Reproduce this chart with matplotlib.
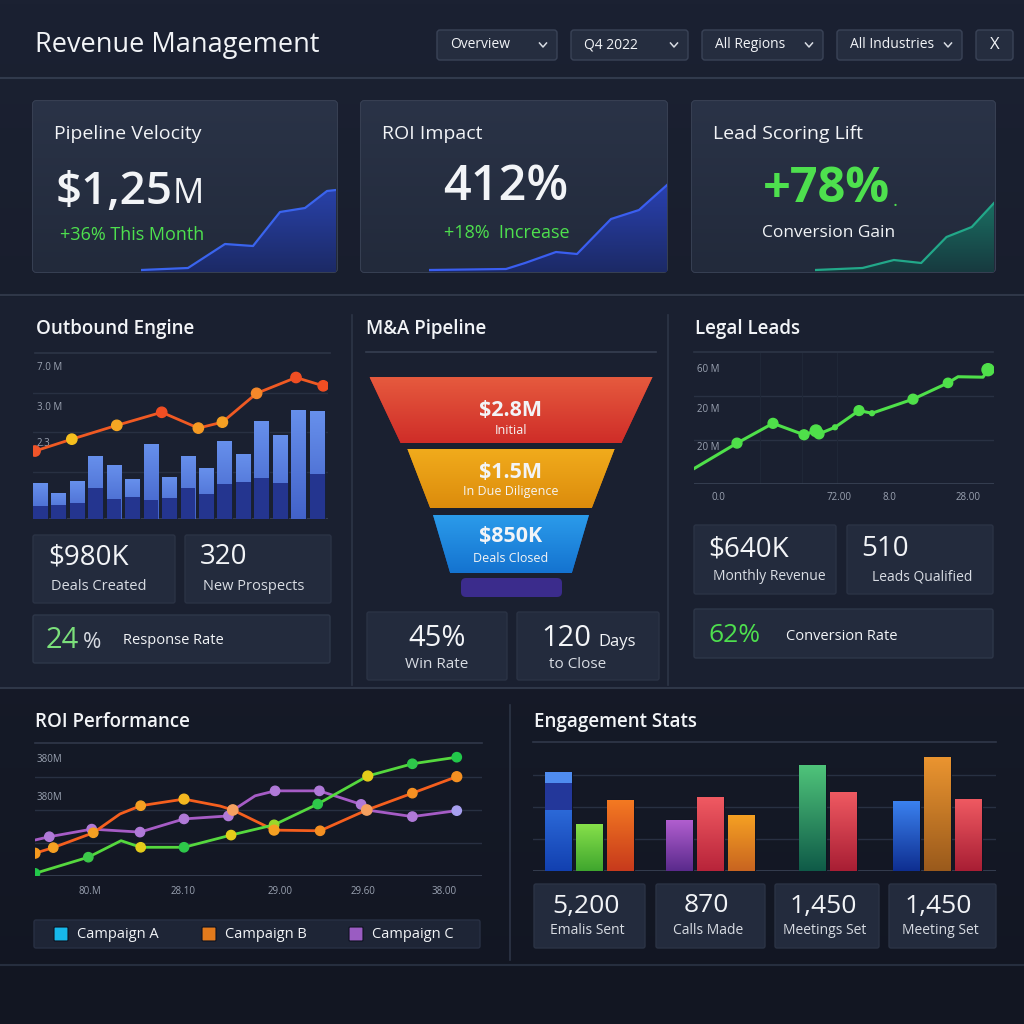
import numpy as np
import matplotlib
matplotlib.use('Agg')
import matplotlib.pyplot as plt
from matplotlib.patches import FancyBboxPatch, Polygon
from matplotlib.colors import LinearSegmentedColormap

plt.rcParams['font.family'] = ['Open Sans', 'DejaVu Sans']

# ---------------- data ----------------
filters = ['Overview', 'Q4 2022', 'All Regions', 'All Industries']

kpi_titles = ['Pipeline Velocity', 'ROI Impact', 'Lead Scoring Lift']
kpi_notes = ['+36% This Month', '+18%  Increase', 'Conversion Gain']

spark1_t = [0, 4.7, 8.4, 11.2, 13.9, 16.4, 18.6, 19.5]
spark1_v = [2, 4, 28, 26, 60, 64, 81, 82]
spark2_t = [0, 7.7, 9.6, 12.7, 14.8, 18.2, 21.0, 23.8]
spark2_v = [2, 3, 9, 20, 18, 53, 62, 87]
spark3_t = [0, 4.7, 7.8, 10.5, 13.0, 15.5, 17.7]
spark3_v = [2, 4, 12, 9, 35, 45, 69]

out_bar_total = [0.90, 0.67, 0.96, 1.60, 1.37, 1.00, 1.90, 1.07,
                 1.60, 1.29, 1.97, 1.64, 2.47, 2.12, 2.77, 2.73]
out_bar_base = [0.34, 0.35, 0.41, 0.78, 0.51, 0.55, 0.48, 0.52,
                0.78, 0.62, 0.88, 0.94, 1.05, 0.90, 0.00, 1.15]
out_line_x = [-0.27, 1.72, 4.15, 6.58, 8.56, 9.86, 11.71, 13.84, 15.31]
out_line_y = [1.72, 2.02, 2.37, 2.70, 2.30, 2.45, 3.18, 3.58, 3.37]
out_ylabels = ['7.0 M', '3.0 M', '2.3']

funnel_values = [2.8, 1.5, 0.85]
funnel_amounts = ['$2.8M', '$1.5M', '$850K']
funnel_stages = ['Initial', 'In Due Diligence', 'Deals Closed']

leads_x = [0, 4.3, 7.9, 11.0, 12.2, 12.5, 14.1, 16.5, 17.8, 21.9, 25.4, 26.4, 28.9, 29.4]
leads_y = [0.35, 0.93, 1.38, 1.12, 1.21, 1.14, 1.29, 1.67, 1.61, 1.93, 2.30, 2.44, 2.43, 2.60]
leads_xticks = [2.4, 14.5, 19.5, 27.4]
leads_xlabels = ['0.0', '72.00', '8.0', '28.00']
leads_ylabels = ['60 M', '20 M', '20 M']

roi_a_x = [0, 5.37, 8.66, 10.64, 15.0, 19.74, 24.07, 28.46, 33.5, 37.99, 42.46]
roi_a_y = [0.08, 0.57, 1.07, 0.87, 0.87, 1.24, 1.55, 2.18, 3.03, 3.40, 3.60]
roi_b_x = [0, 1.84, 5.87, 8.56, 10.64, 15.0, 18.63, 19.91, 24.07, 28.7, 33.4, 37.99, 42.46]
roi_b_y = [0.69, 0.86, 1.31, 1.88, 2.13, 2.33, 2.12, 2.00, 1.39, 1.37, 2.00, 2.51, 3.01]
roi_c_x = [0, 1.44, 5.71, 10.57, 15.0, 19.47, 19.97, 22.16, 24.17, 28.63, 32.83, 33.4, 37.99, 42.46]
roi_c_y = [1.09, 1.19, 1.42, 1.33, 1.73, 1.82, 2.00, 2.43, 2.58, 2.58, 2.17, 2.00, 1.80, 1.98]
roi_xticks = [5.5, 14.9, 24.7, 33.0, 41.2]
roi_xlabels = ['80.M', '28.10', '29.00', '29.60', '38.00']
roi_ylabels = ['380M', '380M']
campaigns = ['Campaign A', 'Campaign B', 'Campaign C']

eng_values = [[3.08, 1.46, 2.22], [1.60, 2.31, 1.74], [3.30, 2.47], [2.19, 3.57, 2.26]]
eng_first_stack = [1.90, 0.84, 0.34]

outbound_stats = [('$980K', 'Deals Created'), ('320', 'New Prospects')]
ma_stats = [('45%', 'Win Rate'), ('120', 'to Close')]
leads_stats = [('$640K', 'Monthly Revenue'), ('510', 'Leads Qualified')]
eng_stats = [('5,200', 'Emalis Sent'), ('870', 'Calls Made'),
             ('1,450', 'Meetings Set'), ('1,450', 'Meeting Set')]

# ---------------- figure ----------------
fig = plt.figure(figsize=(10.24, 10.24), dpi=100)
bg = fig.add_axes([0, 0, 1, 1])
bg.axis('off')

WHITE = '#f2f4f7'
LABEL = '#d8dce3'
GREEN = '#4ee04e'
TICK = '#9aa2b1'
LINE = '#2d3546'


def cmap2(c1, c2):
    return LinearSegmentedColormap.from_list('g', [c1, c2])


def vgrad(ax, clip, c_top, c_bot, extent, z=2, transform=None):
    im = ax.imshow(np.linspace(0, 1, 128).reshape(-1, 1), cmap=cmap2(c_top, c_bot),
                   extent=extent, aspect='auto', origin='upper', zorder=z)
    if transform is None:
        im.set_clip_path(clip)
    else:
        im.set_clip_path(clip, transform)
    return im


def box(x0, y0, x1, y1, fc, ec, r=3, lw=1.0, z=1):
    p = FancyBboxPatch((x0, y0), x1 - x0, y1 - y0, boxstyle=f'round,pad=0,rounding_size={r}',
                       fc=fc, ec=ec, lw=lw, zorder=z)
    bg.add_patch(p)
    return p


def txt(x, y, s, size, color=WHITE, ha='left', weight='normal', z=5, **kw):
    bg.text(x, y, s, fontsize=size, color=color, ha=ha, va='center', fontweight=weight,
            zorder=z, **kw)


def hline(y, x0, x1, color=LINE, lw=1.2):
    bg.plot([x0, x1], [y, y], color=color, lw=lw, zorder=1)


def vline(x, y0, y1, color=LINE, lw=1.2):
    bg.plot([x, x], [y0, y1], color=color, lw=lw, zorder=1)


def px_axes(x0, y0, x1, y1):
    ax = fig.add_axes([x0 / 1024, 1 - y1 / 1024, (x1 - x0) / 1024, (y1 - y0) / 1024])
    ax.patch.set_alpha(0)
    for s in ax.spines.values():
        s.set_visible(False)
    ax.set_xticks([])
    ax.set_yticks([])
    return ax


# background
bg.imshow(np.linspace(0, 1, 256).reshape(-1, 1),
          cmap=LinearSegmentedColormap.from_list('bg', ['#1b2132', '#171c2a', '#121622']),
          extent=(0, 1024, 1024, 0), aspect='auto', origin='upper', zorder=0)
box(0, 297, 1024, 687, '#1a2030', 'none', r=0, z=0.5)

# header
txt(35, 45, 'Revenue Management', 19.5, weight='medium')
drop_x = [(437, 557), (571, 688), (702, 823), (837, 962)]
for (x0, x1), name in zip(drop_x, filters):
    box(x0, 30, x1, 60, '#252d3f', '#3a4357', r=3)
    txt(x0 + 13, 45, name, 10, color=WHITE)
    cx = x1 - 14
    bg.plot([cx - 3.5, cx, cx + 3.5], [43, 47, 43], color=LABEL, lw=1.1, zorder=5)
box(976, 30, 1013, 60, '#252d3f', '#3a4357', r=3)
txt(994.5, 45, 'X', 12, ha='center', weight='medium')
hline(78, 0, 1024, color='#313a4c', lw=1.5)

# KPI cards
cards = [(33, 337), (361, 667), (692, 995)]
for (x0, x1), title in zip(cards, kpi_titles):
    p = box(x0, 101, x1, 272, '#273044', '#3d465a', r=3, lw=1.2)
    vgrad(bg, p, '#2a3347', '#222a3b', (x0, x1, 272, 101), z=1.2)
    txt(x0 + 21, 134, title, 14, weight='medium')

txt(56, 192, '$1,25', 33, weight='semibold')
txt(173, 194, 'M', 25, weight='medium')
txt(60, 235, kpi_notes[0], 13, color=GREEN)
txt(506, 187, '412%', 35, ha='center', weight='semibold')
txt(507, 233, kpi_notes[1], 13, color=GREEN, ha='center')
txt(826, 189, '+78%', 35, color=GREEN, ha='center', weight='bold')
txt(893, 201, '.', 14, color=GREEN)
hline(211, 765, 895, color='#4d5a5c', lw=1.5)
txt(829, 233, kpi_notes[2], 12.5, ha='center')

sparks = [((141, 336), spark1_t, spark1_v, '#3a64ee', '#2a44b0', '#1c2a66'),
          ((429, 667), spark2_t, spark2_v, '#3a5ef0', '#2a42b4', '#1c2a66'),
          ((815, 994), spark3_t, spark3_v, '#22a889', '#1b7f6d', '#173a3f')]
for (x0, x1), t, v, lc, c1, c2 in sparks:
    ax = px_axes(x0, 180, x1, 272)
    ax.set_xlim(min(t), max(t))
    ax.set_ylim(0, 92)
    poly = ax.fill_between(t, v, 0, color='none')
    vgrad(ax, poly.get_paths()[0], c1, c2, (min(t), max(t), 0, 92), transform=ax.transData)
    ax.plot(t, v, color=lc, lw=1.6)
    ax.set_xlim(min(t), max(t))
    ax.set_ylim(0, 92)

hline(295, 0, 1024, color='#2f3748', lw=1.5)

# ---------------- Outbound Engine ----------------
txt(36, 329, 'Outbound Engine', 13.5, weight='semibold')
hline(353, 35, 330)
ax = px_axes(33, 353, 328, 519)
ax.set_xlim(-0.38, 15.57)
ax.set_ylim(0, 4.2)
for g in [1.2, 2.2, 3.2]:
    ax.axhline(g, color='#283042', lw=1, zorder=0)
ax.axhline(0, color='#3a4356', lw=1.2, zorder=0)
idx = np.arange(len(out_bar_total))
tops = ax.bar(idx, out_bar_total, width=0.81, color='none', edgecolor='#16203a', lw=0.6, zorder=2)
for b in tops:
    vgrad(ax, b, '#6790ec', '#4262c8', (b.get_x(), b.get_x() + b.get_width(), 0, b.get_height()), z=2)
ax.bar(idx, out_bar_base, width=0.81, color='#24358f', zorder=3)
ax.plot(out_line_x, out_line_y, color='#f05a23', lw=2, zorder=4)
dot_cols = ['#f0552a', '#f5bf1e', '#f5a623', '#f04e23', '#f59a23', '#f5a023', '#f5882a', '#f04e23', '#f04e23']
ax.scatter(out_line_x, out_line_y, s=55, c=dot_cols, zorder=5)
ax.set_xlim(-0.38, 15.57)
ax.set_ylim(0, 4.2)
for y, lab in zip([368, 407, 443], out_ylabels):
    txt(37, y, lab, 7, color=TICK)

for (x0, x1), (val, lab) in zip([(33, 175), (185, 331)], outbound_stats):
    box(x0, 535, x1, 603, '#232b3d', '#2b3345', r=2)
    txt(x0 + 15, 557, val, 20, weight='medium')
    txt(x0 + 18, 586, lab, 10.5, color=LABEL)
box(33, 615, 330, 663, '#232b3d', '#2e3749', r=2)
txt(46, 640, '24', 21, color='#7be07b', weight='medium')
txt(83, 642, '%', 16, color=LABEL)
txt(123, 641, 'Response Rate', 10.5, weight='medium')

vline(352, 315, 685)
vline(668, 315, 685)

# ---------------- M&A Pipeline ----------------
txt(366, 329, 'M&A Pipeline', 13.5, weight='semibold')
hline(352, 366, 656, color='#363f51')
stage_y = [(377, 443), (449, 508), (515, 573)]
amt_y = [411, 472, 537]
lab_y = [431, 492, 558]
stage_cols = [('#e65a3e', '#cf2d28'), ('#f1ab1c', '#dc8c0c'), ('#2b9bea', '#1473d0')]
cx = 511
for v, (y0, y1), (c1, c2), amt, lab, ya, yl in zip(funnel_values, stage_y, stage_cols,
                                                  funnel_amounts, funnel_stages, amt_y, lab_y):
    wt = 283 * np.sqrt(v / funnel_values[0])
    wb = wt * 0.78
    poly = Polygon([(cx - wt / 2, y0), (cx + wt / 2, y0), (cx + wb / 2, y1), (cx - wb / 2, y1)],
                   closed=True, fc=c2, ec='none', zorder=2)
    bg.add_patch(poly)
    vgrad(bg, poly, c1, c2, (cx - wt / 2, cx + wt / 2, y1, y0), z=2.1)
    txt(cx, ya, amt, 15.5, ha='center', weight='bold')
    txt(cx, yl, lab, 9, ha='center', color='#f5f5f5')
tab = FancyBboxPatch((461, 578), 101, 19, boxstyle='round,pad=0,rounding_size=5',
                     fc='#3b2c8c', ec='none', zorder=2)
bg.add_patch(tab)

for (x0, x1) in [(367, 507), (517, 659)]:
    box(x0, 612, x1, 680, '#232b3d', '#2b3345', r=2)
txt(437, 638, ma_stats[0][0], 21, ha='center', weight='medium')
txt(437, 664, ma_stats[0][1], 11, ha='center', color=LABEL)
txt(541, 638, ma_stats[1][0], 21, weight='medium')
txt(598, 642, 'Days', 12)
txt(578, 664, ma_stats[1][1], 11, ha='center', color=LABEL)

# ---------------- Legal Leads ----------------
txt(695, 329, 'Legal Leads', 13.5, weight='semibold')
hline(352, 694, 993)
ax = px_axes(694, 353, 994, 484)
ax.set_xlim(0, 30)
ax.set_ylim(0, 2.98)
for g in [1, 2]:
    ax.axhline(g, color='#293143', lw=1, zorder=0)
for g in [6.6, 10.8, 14.3]:
    ax.axvline(g, color='#1f2737', lw=0.8, zorder=0)
ax.axhline(0, color='#3a4356', lw=1.2, zorder=0)
ax.plot(leads_x, leads_y, color='#4fe04a', lw=2.2, zorder=3)
msize = [0, 50, 50, 50, 70, 50, 12, 50, 12, 50, 45, 0, 0, 75]
ax.scatter(leads_x, leads_y, s=msize, color='#4fe04a', zorder=4)
ax.set_xlim(0, 30)
ax.set_ylim(0, 2.98)
for xv, lab in zip(leads_xticks, leads_xlabels):
    txt(694 + xv * 10, 497, lab, 7, color=TICK, ha='center')
for y, lab in zip([369, 409, 448], leads_ylabels):
    txt(697, y, lab, 7, color=TICK)

for (x0, x1), (val, lab) in zip([(694, 836), (847, 993)], leads_stats):
    box(x0, 525, x1, 594, '#232b3d', '#2b3345', r=2)
    txt(x0 + 14, 549, val, 20, weight='medium')
    txt(x0 + 19 if val.startswith('$') else x0 + 25, 577, lab, 10, color=LABEL)
box(694, 609, 993, 658, '#232b3d', '#2e3749', r=2)
txt(708, 635, '62%', 19, color='#4ee04e', weight='medium')
txt(786, 636, 'Conversion Rate', 10.5, weight='medium')

hline(688, 0, 1024, color='#2f3748', lw=1.5)

# ---------------- ROI Performance ----------------
txt(35, 722, 'ROI Performance', 13.5, weight='semibold')
vline(510, 705, 960)
ax = px_axes(35, 743, 482, 876)
ax.set_xlim(0, 45)
ax.set_ylim(0, 4.03)
for g in [1, 2, 3]:
    ax.axhline(g, color='#283042', lw=1, zorder=0)
ax.axhline(4.03, color='#303849', lw=1.2, zorder=0, clip_on=False)
ax.axhline(0, color='#3a4356', lw=1.2, zorder=0)
ax.plot(roi_c_x, roi_c_y, color='#a65cc6', lw=2, zorder=3)
ax.plot(roi_b_x, roi_b_y, color='#f55f1e', lw=2, zorder=3)
ax.plot(roi_a_x, roi_a_y, color='#55d83e', lw=2, zorder=3)
a_cols = ['#22c84a', '#3cc84a', '#55d83e', '#e5cc1a', '#2ec84a', '#e5cc1a', '#9ad82a', '#2ec84a', '#e5cc1a', '#2ec84a', '#22c84a']
a_size = [45, 45, 0, 45, 45, 45, 45, 45, 50, 45, 45]
ax.scatter(roi_a_x, roi_a_y, s=a_size, c=a_cols, marker='o', zorder=5)
b_cols = ['#f59a1e', '#f5a022', '#f5a022', '#f55f1e', '#f5a022', '#f5b820', '#f55f1e', '#f5a060', '#f5a022', '#f59022', '#f5a060', '#f59022', '#f59022']
b_size = [50, 45, 45, 0, 45, 50, 0, 55, 50, 45, 55, 45, 50]
ax.scatter(roi_b_x, roi_b_y, s=b_size, c=b_cols, zorder=5)
c_size = [0, 45, 45, 45, 45, 45, 0, 0, 45, 45, 45, 0, 45, 45]
c_cols = ['#b07ad8'] * (len(roi_c_x) - 1) + ['#a8a0f0']
ax.scatter(roi_c_x, roi_c_y, s=c_size, c=c_cols, zorder=4)
ax.set_xlim(0, 45)
ax.set_ylim(0, 4.03)
for xv, lab in zip(roi_xticks, roi_xlabels):
    txt(35 + xv * 9.93, 891, lab, 7, color=TICK, ha='center')
for y, lab in zip([760, 798], roi_ylabels):
    txt(37, y, lab, 7, color=TICK)

box(34, 920, 480, 948, '#1e2536', '#283043', r=2)
leg_cols = ['#17b8ea', '#e27a1c', '#9a5cc2']
for xs, lab, c in zip([54, 202, 349], campaigns, leg_cols):
    box(xs, 927, xs + 14, 941, c, '#0e1320', r=1, lw=0.8, z=3)
    txt(xs + 23, 934, lab, 10.5)

# ---------------- Engagement Stats ----------------
txt(534, 722, 'Engagement Stats', 13.5, weight='semibold')
ax = px_axes(533, 742, 996, 871)
ax.set_xlim(0, 46.3)
ax.set_ylim(0, 4.03)
for g in [1, 2, 3]:
    ax.axhline(g, color='#283042', lw=1, zorder=0)
ax.axhline(4.03, color='#303849', lw=1.2, zorder=0, clip_on=False)
ax.axhline(0, color='#3a4356', lw=1.2, zorder=0)
group_centers = [5.6, 17.7, 29.5, 40.4]
eng_cols = [[('#3b82f0', '#1240b0'), ('#86e04a', '#3fa62e'), ('#f47a22', '#c73a1c')],
            [('#b25fd0', '#5a2a8c'), ('#f05a62', '#b8243a'), ('#f5a023', '#c86420')],
            [('#4fc47a', '#0f5a48'), ('#f05a62', '#a81e34')],
            [('#3b82f0', '#0e2e90'), ('#eb9530', '#9a5a1c'), ('#f05a62', '#a81e34')]]
step = 3.1
for gc, vals, cols in zip(group_centers, eng_values, eng_cols):
    pos = gc + (np.arange(len(vals)) - (len(vals) - 1) / 2) * step
    bars = ax.bar(pos, vals, width=2.7, color='none', edgecolor='#0f1422', lw=0.8, zorder=2)
    for b, (c1, c2) in zip(bars, cols):
        vgrad(ax, b, c1, c2, (b.get_x(), b.get_x() + b.get_width(), 0, b.get_height()), z=2)
x0 = group_centers[0] - step
ax.bar(x0, eng_first_stack[1], bottom=eng_first_stack[0], width=2.7, color='#23379a', zorder=3)
ax.bar(x0, eng_first_stack[2], bottom=eng_first_stack[0] + eng_first_stack[1], width=2.7,
       color='#4f8cf0', zorder=3)
ax.set_xlim(0, 46.3)
ax.set_ylim(0, 4.03)

eng_boxes = [(534, 645), (656, 765), (775, 879), (889, 996)]
for (x0, x1), (val, lab) in zip(eng_boxes, eng_stats):
    box(x0, 884, x1, 948, '#232b3d', '#2b3345', r=2)
    c = (x0 + x1) / 2
    txt(c - 4, 906, val, 19, ha='center', weight='medium')
    txt(c - 2, 930, lab, 10, ha='center', color=LABEL)

hline(965, 0, 1024, color='#262e3e', lw=1.5)

bg.set_xlim(0, 1024)
bg.set_ylim(1024, 0)
fig.savefig('out.png', dpi=100, facecolor='#161b28')
